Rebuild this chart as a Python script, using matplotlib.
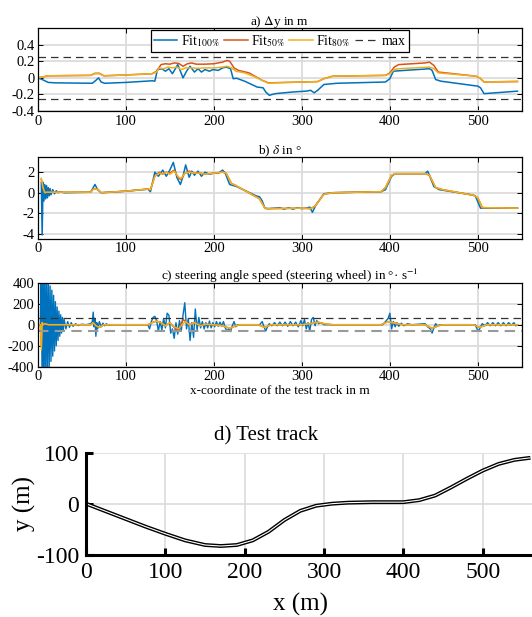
import numpy as np
import matplotlib
matplotlib.use("Agg")
from matplotlib import pyplot as plt

plt.rcParams['font.family'] = ['Liberation Serif', 'DejaVu Serif']
plt.rcParams['mathtext.fontset'] = 'stix'
plt.rcParams['axes.unicode_minus'] = False

# colours (MATLAB default order)
c_100 = "#0072BD"
c_50 = "#D95319"
c_80 = "#EDB120"

# ---- a) lateral deviation dy in m
a_x100 = [0, 5, 12, 20, 62, 66, 69, 72, 76, 100, 130, 133, 136, 141, 145, 149, 153, 159, 165, 169, 173, 178,
          182, 186, 190, 195, 199, 205, 210, 214, 219, 222, 226, 235, 249, 256, 259, 263, 270, 290, 305, 310,
          314, 318, 325, 340, 395, 400, 404, 410, 445, 448, 452, 458, 500, 503, 507, 520, 545]
a_y100 = [0, -0.02, -0.055, -0.06, -0.065, -0.03, 0.0, -0.05, -0.065, -0.055, -0.035, -0.04, 0.1, 0.11, 0.08,
          0.11, 0.05, 0.16, 0.0, 0.08, 0.14, 0.07, 0.11, 0.07, 0.1, 0.08, 0.1, 0.09, 0.12, 0.13, 0.11, -0.01,
          -0.005, -0.04, -0.11, -0.12, -0.17, -0.21, -0.19, -0.17, -0.16, -0.15, -0.18, -0.15, -0.08, -0.065,
          -0.05, -0.01, 0.08, 0.085, 0.11, 0.09, -0.02, -0.04, -0.10, -0.12, -0.19, -0.18, -0.16]
a_x50 = [0, 5, 12, 60, 65, 70, 75, 100, 130, 135, 140, 145, 150, 155, 160, 165, 170, 175, 180, 190, 200, 210,
         215, 218, 223, 228, 240, 255, 262, 300, 318, 325, 335, 395, 400, 405, 410, 440, 445, 450, 455, 498,
         502, 507, 545]
a_y50 = [0, 0.01, 0.025, 0.03, 0.055, 0.055, 0.025, 0.035, 0.05, 0.08, 0.16, 0.17, 0.165, 0.18, 0.175, 0.14,
         0.17, 0.18, 0.165, 0.165, 0.17, 0.19, 0.21, 0.2, 0.12, 0.09, 0.06, -0.03, -0.06, -0.05, -0.045, -0.01,
         0.02, 0.03, 0.06, 0.13, 0.16, 0.18, 0.19, 0.15, 0.07, 0.02, 0.0, -0.05, -0.045]
a_x80 = [0, 5, 12, 60, 65, 70, 75, 100, 130, 135, 138, 143, 148, 153, 158, 163, 168, 175, 182, 190, 200, 210,
         215, 220, 225, 235, 245, 255, 262, 270, 300, 318, 325, 335, 395, 400, 405, 410, 445, 450, 455, 498,
         502, 507, 545]
a_y80 = [0, 0.01, 0.025, 0.03, 0.05, 0.05, 0.025, 0.035, 0.05, 0.07, 0.12, 0.11, 0.13, 0.12, 0.13, 0.1, 0.12,
         0.12, 0.115, 0.12, 0.12, 0.13, 0.14, 0.12, 0.08, 0.06, 0.02, -0.03, -0.065, -0.06, -0.05, -0.045,
         -0.01, 0.02, 0.03, 0.05, 0.1, 0.11, 0.13, 0.11, 0.06, 0.02, 0.0, -0.05, -0.04]
a_max = 0.25

# ---- b) steering angle delta in deg
b_x100 = [4, 5, 6, 7, 8, 9, 10, 11, 12, 13, 14, 15, 17, 19, 21, 23, 25, 30, 60, 63, 65, 68, 72, 100, 125, 128,
          133, 137, 142, 146, 150, 154, 158, 162, 165, 168, 172, 175, 178, 182, 186, 190, 195, 200, 205, 210,
          213, 218, 222, 226, 248, 252, 255, 258, 262, 275, 280, 285, 290, 295, 300, 305, 309, 312, 316, 325,
          335, 390, 395, 402, 406, 440, 443, 450, 456, 493, 497, 503, 545]
b_y100 = [1.0, -4.1, 1.0, -0.8, 0.8, -0.6, 0.7, -0.5, 0.5, -0.3, 0.4, -0.2, 0.3, -0.1, 0.2, 0.0, 0.1, 0.0, 0.05,
          0.5, 0.8, 0.3, 0.0, 0.15, 0.35, 0.1, 2.0, 1.6, 2.2, 1.6, 2.2, 2.95, 1.5, 0.8, 1.6, 2.7, 1.5, 2.1, 1.7,
          2.1, 1.6, 2.0, 1.8, 1.9, 1.9, 2.2, 1.9, 0.8, 0.7, 0.6, -0.3, -0.4, -0.8, -1.5, -1.55, -1.45, -1.6,
          -1.45, -1.6, -1.45, -1.55, -1.5, -1.4, -1.9, -1.2, -0.1, 0.0, 0.1, 0.3, 1.6, 1.85, 1.85, 2.1, 0.6,
          0.3, -0.2, -0.3, -1.5, -1.5]
b_x50 = [4, 6, 8, 10, 60, 63, 68, 72, 100, 125, 128, 133, 138, 142, 146, 150, 155, 160, 163, 167, 172, 178,
         185, 190, 200, 210, 214, 220, 225, 248, 252, 258, 260, 300, 310, 315, 325, 335, 390, 395, 402, 406,
         440, 445, 452, 460, 495, 500, 505, 545]
b_y50 = [1.3, 0.4, 0.0, 0.05, 0.05, 0.35, 0.35, 0.0, 0.15, 0.35, 0.3, 1.6, 2.0, 1.8, 2.0, 1.9, 2.2, 1.4, 1.3,
         1.9, 2.1, 1.9, 1.9, 1.8, 1.9, 2.0, 1.9, 0.9, 0.7, -0.4, -0.6, -1.5, -1.55, -1.5, -1.55, -1.3, -0.15,
         0.0, 0.1, 0.5, 1.7, 1.85, 1.85, 1.7, 0.5, 0.3, -0.25, -0.5, -1.45, -1.5]
b_x80 = b_x50
b_y80 = [1.4, 0.5, 0.0, 0.05, 0.05, 0.35, 0.35, 0.0, 0.15, 0.35, 0.3, 1.6, 1.9, 1.8, 2.0, 1.8, 2.1, 1.5, 1.4,
         1.9, 2.0, 1.9, 1.9, 1.8, 1.9, 2.0, 1.9, 0.9, 0.7, -0.4, -0.6, -1.5, -1.55, -1.5, -1.55, -1.3, -0.15,
         0.0, 0.1, 0.5, 1.7, 1.85, 1.85, 1.7, 0.5, 0.3, -0.25, -0.5, -1.45, -1.5]

# ---- c) steering wheel angle speed in deg/s
c_x100 = [3, 4, 5, 6, 7, 8, 9, 10, 11, 12, 13, 14, 15, 16, 17, 18, 19, 20, 21, 22, 23, 24, 25, 26, 27, 28, 29,
          30, 32, 34, 36, 38, 40, 43, 46, 50, 55, 60, 62, 63, 64, 65, 66, 67, 68, 70, 72, 74, 76, 78, 80, 85,
          125, 127, 129, 131, 133, 135, 137, 139, 141, 143, 145, 147, 149, 151, 153, 155, 157, 159, 161, 163,
          165, 167, 169, 171, 173, 175, 177, 179, 181, 183, 185, 187, 189, 191, 193, 195, 197, 199, 201, 203,
          205, 207, 209, 211, 213, 215, 217, 219, 221, 223, 225, 227, 252, 255, 257, 259, 261, 263, 266, 269,
          272, 275, 278, 281, 284, 287, 290, 293, 296, 299, 301, 303, 305, 307, 309, 311, 313, 315, 317, 319,
          322, 325, 330, 392, 395, 398, 400, 402, 404, 406, 408, 410, 413, 416, 420, 425, 440, 443, 446, 448,
          450, 452, 454, 457, 497, 499, 501, 503, 505, 508, 511, 514, 517, 520, 523, 526, 529, 532, 535, 538,
          541, 543, 545]
c_y100 = [0, 600, -700, 650, -600, 560, -520, 480, -450, 420, -400, 370, -350, 330, -300, 280, -250, 220, -200,
          170, -150, 130, -110, 95, -80, 70, -60, 50, -40, 30, -25, 20, -15, 10, -8, 5, 0, 10, 30, 120, -20, 60,
          -110, 20, -40, 30, -20, 15, -10, 10, -5, 0, 0, -40, 30, 70, 80, 40, -60, 30, -50, 60, -30, 110, 90,
          -80, -40, -130, 20, -90, 40, -60, 90, 210, -40, 60, -150, 20, -120, 150, -50, 70, -30, 30, -40, 20,
          -30, 35, -30, 20, -20, 30, -15, 25, -10, 30, -30, -60, -40, -65, -10, 30, -20, 0, 0, 30, -20, -60,
          -20, 10, -10, 20, -10, 25, -10, 25, -15, 30, -10, 25, -20, 40, -10, 50, -40, 20, -60, 50, 70, -10,
          40, 10, 20, 0, 0, 0, 30, 60, 110, -40, 30, -20, 20, -15, 15, -10, 10, 0, 10, -20, -40, -80, -30, 10,
          -10, 0, 0, -40, -60, -20, 10, -10, 20, -10, 20, -10, 20, -10, 20, -10, 20, -5, 20, -10, 0]
c_x50 = [0, 3, 4, 5, 6, 8, 12, 60, 63, 66, 70, 75, 125, 130, 135, 140, 145, 150, 155, 160, 165, 168, 172, 178,
         185, 190, 200, 210, 218, 225, 230, 250, 258, 265, 300, 310, 318, 325, 335, 390, 398, 405, 415, 440,
         448, 455, 460, 495, 502, 510, 545]
c_y50 = [0, 0, -200, 25, 0, 10, 0, 0, 20, -10, -25, 0, 0, 20, 35, 20, -10, 20, -25, -60, 50, 30, 0, 20, -10,
         5, 0, -10, -35, -10, 0, 0, -25, 0, 0, 10, 25, 10, 0, 0, 30, 15, 0, 0, -35, -10, 0, 0, -25, 0, 0]
c_x80 = c_x50
c_y80 = [0, 0, -240, 20, 0, 10, 0, 0, 20, -10, -25, 0, 0, 20, 35, 20, -10, 20, -20, -40, 10, 30, 0, 20, -10,
         5, 0, -10, -35, -10, 0, 0, -25, 0, 0, 10, 25, 10, 0, 0, 30, 15, 0, 0, -35, -10, 0, 0, -25, 0, 0]
c_max = 60

# ---- d) test track
track_x = [0, 25, 50, 75, 100, 125, 150, 170, 190, 210, 230, 250, 270, 290, 310, 330, 360, 400, 420, 440, 460,
           480, 500, 520, 540, 560]
track_y = [0, -15, -30, -45, -59, -72, -81, -83, -81, -72, -55, -32, -14, -4, 0, 2, 3, 3, 7, 16, 32, 49, 65,
           78, 86, 90]

fig = plt.figure(figsize=(5.32, 6.17), dpi=100)
tick_fs = 10.5
title_fs = 9.5
grid_kw = dict(color="#dcdcdc", linewidth=1.3)


def style_small(ax):
    ax.set_xlim(0, 550)
    ax.set_xticks(range(0, 501, 100))
    ax.grid(True, **grid_kw)
    ax.set_axisbelow(True)
    ax.tick_params(direction="in", top=True, right=True, labelsize=tick_fs, length=3.5, width=0.7, pad=2.5)
    for s in ax.spines.values():
        s.set_linewidth(0.9)


ax1 = fig.add_axes([0.071, 0.820, 0.910, 0.1345])
ax1.plot(a_x100, a_y100, color=c_100, lw=1.1, label="Fit$_{100\\%}$")
ax1.plot(a_x50, a_y50, color=c_50, lw=1.1, label="Fit$_{50\\%}$")
ax1.plot(a_x80, a_y80, color=c_80, lw=1.1, label="Fit$_{80\\%}$")
ax1.axhline(a_max, color="#333333", ls=(0, (6, 4)), lw=0.9, label="max")
ax1.axhline(-a_max, color="#333333", ls=(0, (6, 4)), lw=0.9)
ax1.set_ylim(-0.4, 0.6)
ax1.set_yticks([-0.4, -0.2, 0, 0.2, 0.4])
ax1.set_yticklabels(["-0.4", "-0.2", "0", "0.2", "0.4"])
style_small(ax1)
ax1.set_title("a) $\\Delta$y in m", fontsize=title_fs, pad=2)
leg = ax1.legend(loc="upper center", bbox_to_anchor=(0.5, 1.0), ncol=4, fontsize=10, frameon=True,
                 fancybox=False, edgecolor="black", framealpha=1, handlelength=1.7, columnspacing=0.3,
                 handletextpad=0.25, borderpad=0.2, borderaxespad=0.15)
leg.get_frame().set_linewidth(0.9)

ax2 = fig.add_axes([0.071, 0.6126, 0.910, 0.1334])
ax2.plot(b_x100, b_y100, color=c_100, lw=1.1)
ax2.plot(b_x50, b_y50, color=c_50, lw=1.1)
ax2.plot(b_x80, b_y80, color=c_80, lw=1.1)
ax2.set_ylim(-4.5, 3.5)
ax2.set_yticks([-4, -2, 0, 2])
ax2.set_yticklabels(["-4", "-2", "0", "2"])
style_small(ax2)
ax2.set_title("b) $\\delta$ in °", fontsize=title_fs, pad=2)

ax3 = fig.add_axes([0.071, 0.4057, 0.910, 0.136])
ax3.plot(c_x100, c_y100, color=c_100, lw=1.0)
ax3.plot(c_x50, c_y50, color=c_50, lw=1.1)
ax3.plot(c_x80, c_y80, color=c_80, lw=1.1)
ax3.axhline(c_max, color="#333333", ls=(0, (6, 4)), lw=0.9)
ax3.axhline(-c_max, color="#999999", ls=(0, (5, 3)), lw=1.5)
ax3.set_ylim(-400, 400)
ax3.set_yticks([-400, -200, 0, 200, 400])
ax3.set_yticklabels(["-400", "-200", "0", "200", "400"])
style_small(ax3)
ax3.set_title("c) steering angle speed (steering wheel) in °· s$^{-1}$", fontsize=title_fs, pad=2, x=0.52)
ax3.set_xlabel("x-coordinate of the test track in m", fontsize=9.5, labelpad=1)

ax4 = fig.add_axes([0.1617, 0.101, 0.8383, 0.1653])
ax4.plot(track_x, track_y, color="black", lw=2.8, solid_capstyle="butt")
ax4.plot(track_x, track_y, color="white", lw=0.8, solid_capstyle="butt")
ax4.set_xlim(0, 562)
ax4.set_ylim(-100, 100)
ax4.set_xticks(range(0, 501, 100))
ax4.set_yticks([-100, 0, 100])
ax4.set_yticklabels(["-100", "0", "100"])
ax4.grid(True, color="#dcdcdc", linewidth=1.2)
ax4.set_axisbelow(True)
for side in ["top", "right"]:
    ax4.spines[side].set_visible(False)
for side in ["left", "bottom"]:
    ax4.spines[side].set_linewidth(2.2)
ax4.tick_params(direction="in", labelsize=17, length=5, width=2.2, pad=5)
ax4.set_title("d) Test track", fontsize=15, pad=9, x=(266 - 86) / 446)
ax4.set_xlabel("x (m)", fontsize=18, labelpad=0)
ax4.xaxis.set_label_coords((300 - 86) / 446, -0.37)
ax4.set_ylabel("y (m)", fontsize=18, labelpad=0)

fig.savefig("out.png", dpi=100)
